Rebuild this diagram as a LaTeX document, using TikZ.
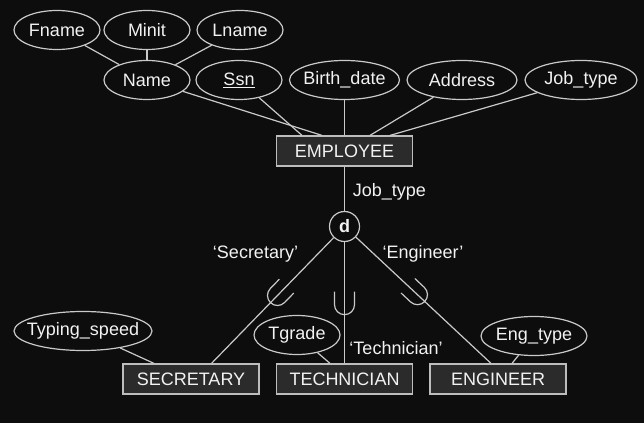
\documentclass[tikz,border=0pt]{standalone}
\usepackage{fontspec}
\setmainfont{Liberation Sans}
\usetikzlibrary{calc, shapes.geometric}

\definecolor{bgcol}{HTML}{0D0D0D}
\definecolor{linecol}{HTML}{CACACA}
\definecolor{boxfill}{HTML}{2B2B2B}
\definecolor{boxline}{HTML}{BDBDBD}
\definecolor{textcol}{HTML}{F2F2F2}

\tikzset{
  attr/.style={ellipse, draw=linecol, fill=bgcol, text=textcol, minimum height=39pt, inner sep=-25pt},
  entity/.style={rectangle, draw=boxline, fill=boxfill, text=textcol, minimum width=136pt, minimum height=30pt},
  dcircle/.style={circle, draw=linecol, fill=bgcol, text=textcol, minimum size=30pt, inner sep=0pt},
  lbl/.style={text=textcol},
  subsetmark/.pic={\draw (-10,13) -- (-10,0) arc[start angle=180, end angle=360, radius=10] -- (10,13);}
}

\begin{document}
\begin{tikzpicture}[x=1pt, y=1pt, color=linecol, line width=1.2pt, font=\fontsize{18pt}{21pt}\selectfont]
  \fill[bgcol] (0,0) rectangle (644,423);
  \useasboundingbox (0,0) rectangle (644,423);

  % attributes of EMPLOYEE
  \node[attr, minimum width=86pt] (fname) at (57,393) {Fname};
  \node[attr, minimum width=86pt] (minit) at (147,393) {Minit};
  \node[attr, minimum width=86pt] (lname) at (240,393) {Lname};
  \node[attr, minimum width=86pt] (name) at (147,343) {Name};
  \node[attr, minimum width=86pt] (ssn) at (239,343) {\underline{Ssn}};
  \node[attr, minimum width=110pt] (bdate) at (344.5,343) {Birth\_date};
  \node[attr, minimum width=110pt] (address) at (462,343) {Address};
  \node[attr, minimum width=112pt] (jobtype) at (581,343) {Job\_type};

  \node[entity] (employee) at (344.5,272) {EMPLOYEE};
  \node[dcircle] (d) at (344.5,196.5) {\textbf{d}};

  % subclasses
  \node[entity] (secretary) at (191,44) {SECRETARY};
  \node[entity] (technician) at (344.5,44) {TECHNICIAN};
  \node[entity] (engineer) at (498,44) {ENGINEER};
  \node[attr, minimum width=138pt] (typing) at (83,92) {Typing\_speed};
  \node[attr, minimum width=86pt] (tgrade) at (297,88) {Tgrade};
  \node[attr, minimum width=106pt] (engtype) at (534,87) {Eng\_type};

  % labels
  \node[lbl, anchor=west] (jtlabel) at (349,231) {Job\_type};
  \node[lbl] (seclabel) at (255.5,169) {`Secretary'};
  \node[lbl] (englabel) at (423,169) {`Engineer'};
  \node[lbl] (teclabel) at (396,75) {`Technician'};

  % connection points
  \coordinate (eName) at ($(employee.north)+(-22.5,0)$);
  \coordinate (eSsn) at ($(employee.north)+(-42.5,0)$);
  \coordinate (eAddr) at ($(employee.north)+(25.5,0)$);
  \coordinate (eJob) at ($(employee.north)+(45.5,0)$);
  \coordinate (secEnd) at ($(secretary.north)+(20.5,0)$);
  \coordinate (engEnd) at ($(engineer.north)+(-7,0)$);
  \coordinate (secTyp) at ($(secretary.north)+(-37,0)$);
  \coordinate (tecGrd) at ($(technician.north)+(-14.5,0)$);
  \coordinate (engTyp) at ($(engineer.north)+(14,0)$);

  \draw (fname) -- (name);
  \draw (minit) -- (name);
  \draw (lname) -- (name);
  \draw (name) -- (eName);
  \draw (ssn) -- (eSsn);
  \draw (bdate) -- (employee);
  \draw (address) -- (eAddr);
  \draw (jobtype) -- (eJob);

  \draw (employee) -- (d);
  \draw (d) -- (secEnd);
  \draw (d) -- (technician);
  \draw (d) -- (engEnd);

  \draw (typing) -- (secTyp);
  \draw (tgrade) -- (tecGrd);
  \draw (engtype) -- (engTyp);

  % subset symbols
  \pic[rotate=-44.1] at ($(d.center)!0.504!(secEnd)$) {subsetmark};
  \pic at ($(d.center)!0.571!(technician.north)$) {subsetmark};
  \pic[rotate=46.8] at ($(d.center)!0.498!(engEnd)$) {subsetmark};
\end{tikzpicture}
\end{document}
